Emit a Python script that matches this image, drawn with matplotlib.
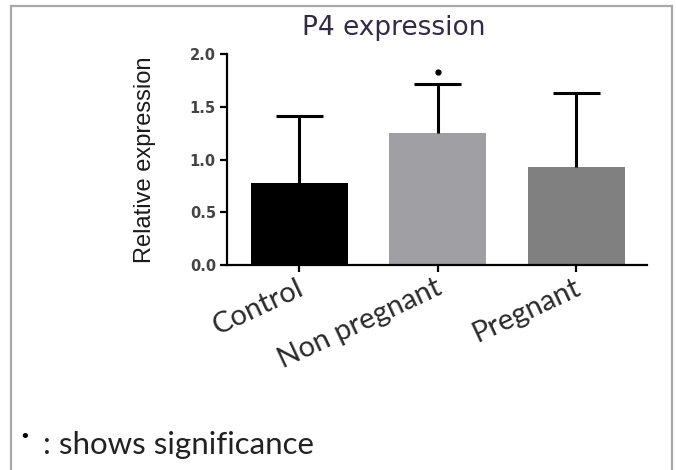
import matplotlib.pyplot as plt
from matplotlib.patches import Rectangle

groups = ["Control", "Non pregnant", "Pregnant"]
means = [0.78, 1.25, 0.93]
sd_upper = [0.63, 0.47, 0.70]
bar_colors = ["#000000", "#a0a0a4", "#808080"]
significant = [False, True, False]
yticks = [0.0, 0.5, 1.0, 1.5, 2.0]

fig = plt.figure(figsize=(6.76, 4.70), dpi=100)
ax = fig.add_axes([227 / 676, 1 - 265 / 470, 420 / 676, 211 / 470])

x = list(range(len(groups)))
ax.bar(x, means, width=0.7, color=bar_colors, zorder=2)

# one-sided error bars (upper only)
tops = [m + s for m, s in zip(means, sd_upper)]
ax.vlines(x, means, tops, color="black", lw=2.2, zorder=3)
ax.hlines(tops, [xi - 0.17 for xi in x], [xi + 0.17 for xi in x],
          color="black", lw=2.2, zorder=3)

# significance mark above the error bar
for xi, t, sig in zip(x, tops, significant):
    if sig:
        ax.plot(xi, t + 0.11, marker="o", ms=3.5, color="black", zorder=4,
                clip_on=False)

ax.set_xlim(-0.52, 2.51)
ax.set_ylim(0, 2.0)
ax.set_yticks(yticks)
ax.set_yticklabels([f"{t:.1f}" for t in yticks], fontsize=10.5,
                   fontweight="bold", color="#444444", family="DejaVu Sans")
ax.set_xticks(x)
ax.set_xticklabels([])

# rotated group names, right end near each tick
for xi, name in zip(x, groups):
    ax.annotate(name, xy=(xi, 0), xycoords=("data", "axes fraction"),
                xytext=(-2, -7), textcoords="offset points",
                rotation=25, ha="right", va="top", rotation_mode="anchor",
                fontsize=21, color="#2a2a2a", family="Lato")

for side in ["top", "right"]:
    ax.spines[side].set_visible(False)
for side in ["left", "bottom"]:
    ax.spines[side].set_linewidth(1.6)
ax.tick_params(axis="both", width=1.6, length=5, pad=3)

ax.set_ylabel("Relative expression", fontsize=17, family="Liberation Sans",
              color="#1a1a1a", labelpad=24)
fig.text(394 / 676, 1 - 28 / 470, "P4 expression", ha="center", va="center",
         fontsize=19, color="#332a44", family="DejaVu Sans")

# footnote
fig.text(19 / 676, 1 - 437 / 470, "•", ha="left", va="center", fontsize=13,
         color="black")
fig.text(43 / 676, 1 - 445 / 470, ": shows significance", ha="left",
         va="center", fontsize=22.5, color="#222222", family="Lato")

# gray frame around the figure
fig.patches.append(Rectangle((11 / 676, -0.05), 661 / 676, 1 - 6 / 470 + 0.05,
                             transform=fig.transFigure, fill=False,
                             edgecolor="#a8a8a8", lw=1.6))

fig.savefig("out.png", dpi=100)
